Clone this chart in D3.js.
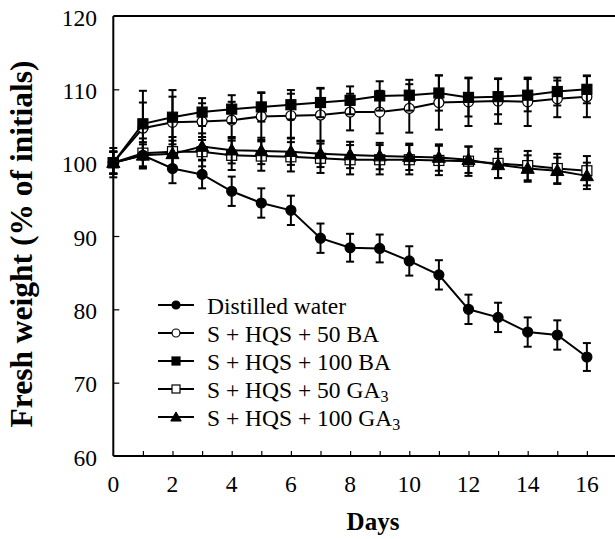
<!DOCTYPE html>
<html>
<head>
<meta charset="utf-8">
<style>
  body { margin: 0; background: #fff; }
</style>
</head>
<body>
<div id="chart"></div>
<script src="https://cdn.jsdelivr.net/npm/d3@7"></script>
<script>
var days = [0, 1, 2, 3, 4, 5, 6, 7, 8, 9, 10, 11, 12, 13, 14, 15, 16];

var water    = [100, 101.0, 99.2, 98.4, 96.1, 94.5, 93.5, 89.7, 88.4, 88.3, 86.6, 84.7, 80.0, 78.9, 76.9, 76.5, 73.5];
var waterErr = [2, 1.5, 2, 1.9, 2, 2, 2, 2, 1.9, 1.9, 2, 2, 2, 2, 2, 2, 1.9];

var ba50     = [100, 104.7, 105.5, 105.6, 105.8, 106.3, 106.4, 106.5, 106.9, 106.9, 107.4, 108.2, 108.3, 108.4, 108.3, 108.7, 109.0];
var ba50Err  = [1.5, 3.5, 3.5, 2.5, 2.5, 3.2, 3, 3.6, 2.5, 2.9, 3.3, 3.7, 3.3, 3.1, 3.3, 2.5, 2.8];

var ba100    = [100, 105.3, 106.2, 106.9, 107.3, 107.6, 107.9, 108.2, 108.5, 109.1, 109.2, 109.5, 108.9, 109.0, 109.2, 109.7, 110.0];
var ba100Err = [1.5, 4.5, 3.7, 1.9, 1.9, 2, 2, 2, 1.9, 2, 2.1, 2.4, 2.6, 2.4, 2.2, 1.9, 1.9];

var ga50     = [100, 101.3, 101.5, 101.5, 101.0, 100.9, 100.8, 100.6, 100.4, 100.4, 100.4, 100.3, 100.2, 99.9, 99.6, 99.2, 98.9];
var ga50Err  = [1.5, 2, 2, 2, 2, 2, 2, 2, 2, 2, 2, 2, 2, 2, 2, 2, 2];

var ga100    = [100, 101.0, 101.2, 102.2, 101.7, 101.6, 101.5, 101.2, 101.05, 100.9, 100.8, 100.7, 100.4, 99.7, 99.2, 98.9, 98.2];
var ga100Err = [1.5, 1.8, 1.8, 1.8, 1.8, 1.8, 1.8, 1.8, 1.8, 1.8, 1.8, 1.8, 1.8, 1.8, 1.8, 1.8, 1.8];

var seriesNames = ["Distilled water", "S + HQS + 50 BA", "S + HQS + 100 BA", "S + HQS + 50 GA", "S + HQS + 100 GA"];

var yTicks = [60, 70, 80, 90, 100, 110, 120];
var xTickLabels = [0, 2, 4, 6, 8, 10, 12, 14, 16];

var width = 615, height = 539;
var serif = "Liberation Serif";

var svg = d3.select("#chart").append("svg")
  .attr("width", width)
  .attr("height", height);

var x = d3.scaleLinear().domain([0, 16.95]).range([113.3, 615]);
var y = d3.scaleLinear().domain([60, 120]).range([456, 16]);

// series: values, errors, marker kind, filled
var series = [
  { name: seriesNames[1], v: ba50,  e: ba50Err,  shape: "circle",   fill: "#fff" },
  { name: seriesNames[3], v: ga50,  e: ga50Err,  shape: "square",   fill: "#fff" },
  { name: seriesNames[4], v: ga100, e: ga100Err, shape: "triangle", fill: "#000" },
  { name: seriesNames[2], v: ba100, e: ba100Err, shape: "square",   fill: "#000" },
  { name: seriesNames[0], v: water, e: waterErr, shape: "circle",   fill: "#000" }
];

// frame: top line, left and bottom axes
svg.append("line")
  .attr("x1", x(0)).attr("x2", width)
  .attr("y1", y(120)).attr("y2", y(120))
  .attr("stroke", "#000").attr("stroke-width", 2);

var xAxis = svg.append("g")
  .attr("transform", "translate(0," + y(60) + ")")
  .call(d3.axisBottom(x).tickValues(days.slice(1)).tickSize(-5).tickFormat(""));
xAxis.select(".domain").attr("stroke-width", 2).attr("d", "M" + x(0) + ",0H" + width);
xAxis.selectAll(".tick line").attr("stroke-width", 1.2);

var yAxis = svg.append("g")
  .attr("transform", "translate(" + x(0) + ",0)")
  .call(d3.axisLeft(y).tickValues(yTicks.slice(1, -1)).tickSize(-6).tickFormat(""));
yAxis.select(".domain").attr("stroke-width", 2).attr("d", "M0," + y(120) + "V" + y(60));
yAxis.selectAll(".tick line").attr("stroke-width", 1.2);

// tick labels
svg.append("g").selectAll("text")
  .data(yTicks).enter().append("text")
  .attr("x", 97).attr("y", function(d) { return y(d) + 9.5; })
  .attr("text-anchor", "end")
  .attr("font-family", serif).attr("font-size", 23.5)
  .text(function(d) { return d; });

svg.append("g").selectAll("text")
  .data(xTickLabels).enter().append("text")
  .attr("x", function(d) { return x(d); }).attr("y", 492)
  .attr("text-anchor", "middle")
  .attr("font-family", serif).attr("font-size", 23.5)
  .text(function(d) { return d; });

// axis titles
svg.append("text")
  .attr("x", 373).attr("y", 530)
  .attr("text-anchor", "middle")
  .attr("font-family", serif).attr("font-size", 25).attr("font-weight", "bold")
  .text("Days");

svg.append("text")
  .attr("transform", "translate(32,244) rotate(-90)")
  .attr("text-anchor", "middle")
  .attr("font-family", serif).attr("font-size", 31.5).attr("font-weight", "bold")
  .text("Fresh weight (% of initials)");

var line = d3.line()
  .x(function(d, i) { return x(days[i]); })
  .y(function(d) { return y(d); });

function drawMarker(g, shape, fill, cx, cy, s) {
  if (shape === "circle") {
    g.append("circle").attr("cx", cx).attr("cy", cy).attr("r", s / 2)
      .attr("fill", fill).attr("stroke", "#000").attr("stroke-width", 1.2);
  } else if (shape === "square") {
    g.append("rect").attr("x", cx - s / 2).attr("y", cy - s / 2)
      .attr("width", s).attr("height", s)
      .attr("fill", fill).attr("stroke", "#000").attr("stroke-width", 1.2);
  } else {
    g.append("path")
      .attr("transform", "translate(" + cx + "," + (cy + 1) + ")")
      .attr("d", d3.symbol().type(d3.symbolTriangle).size(s * s * 0.75)())
      .attr("fill", fill).attr("stroke", "#000").attr("stroke-width", 1);
  }
}

series.forEach(function(s) {
  var g = svg.append("g");
  g.append("path").datum(s.v)
    .attr("d", line)
    .attr("fill", "none").attr("stroke", "#000").attr("stroke-width", 2);

  s.v.forEach(function(v, i) {
    var cx = x(days[i]), lo = y(v - s.e[i]), hi = y(v + s.e[i]);
    g.append("line").attr("x1", cx).attr("x2", cx).attr("y1", lo).attr("y2", hi)
      .attr("stroke", "#000").attr("stroke-width", 2);
    g.append("line").attr("x1", cx - 4).attr("x2", cx + 4).attr("y1", lo).attr("y2", lo)
      .attr("stroke", "#000").attr("stroke-width", 2);
    g.append("line").attr("x1", cx - 4).attr("x2", cx + 4).attr("y1", hi).attr("y2", hi)
      .attr("stroke", "#000").attr("stroke-width", 2);
  });

  s.v.forEach(function(v, i) {
    drawMarker(g, s.shape, s.fill, x(days[i]), y(v), 10);
  });
});

// legend
var legendOrder = [4, 0, 3, 1, 2];
var legend = svg.append("g");
legend.append("rect")
  .attr("x", 150).attr("y", 290).attr("width", 252).attr("height", 142)
  .attr("fill", "#fff");

legendOrder.forEach(function(k, j) {
  var s = series[k];
  var ly = 305 + j * 28;
  legend.append("line").attr("x1", 158).attr("x2", 194).attr("y1", ly).attr("y2", ly)
    .attr("stroke", "#000").attr("stroke-width", 2);
  drawMarker(legend, s.shape, s.fill, 176, ly, 8);
  var t = legend.append("text")
    .attr("x", 207).attr("y", ly + 8.5)
    .attr("font-family", serif).attr("font-size", 23.5)
    .text(s.name);
  if (s.name.indexOf("GA") >= 0) {
    t.append("tspan").attr("dy", 4).attr("font-size", 16).text("3");
  }
});
</script>
</body>
</html>
